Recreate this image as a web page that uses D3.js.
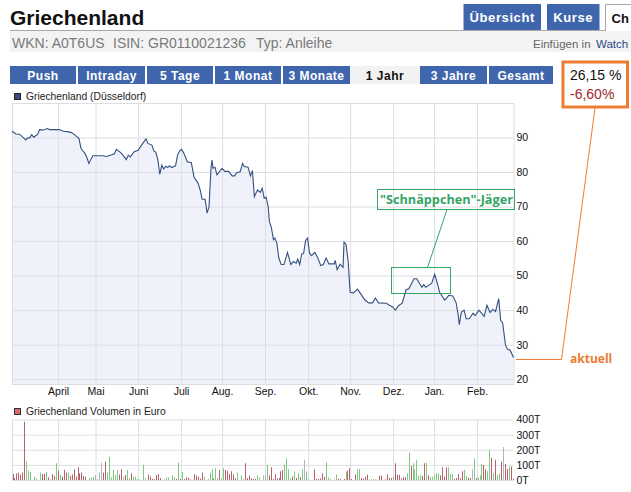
<!DOCTYPE html>
<html>
<head>
<meta charset="utf-8">
<script src="https://d3js.org/d3.v7.min.js"></script>
<style>
    body { margin: 0; background: #fff; overflow: hidden; }
    svg { display: block; }
    text { font-family: "Liberation Sans", Arial, sans-serif; }
    .axis text { font-size: 10.5px; fill: #111; }
    .axis .domain { display: none; }
    .axis line { stroke: #dcdee2; }
</style>
</head>
<body>
<div id="chart"></div>
<script>
//Chart data
var monthNames = ["April", "Mai", "Juni", "Juli", "Aug.", "Sep.", "Okt.", "Nov.", "Dez.", "Jan.", "Feb."];
var monthDays = [23.4, 42.4, 64, 85.8, 106.6, 128.4, 150.3, 171.6, 193.4, 214.2, 236];
var priceTicks = [20, 30, 40, 50, 60, 70, 80, 90];
var volumeTicks = [0, 100, 200, 300, 400];

//Trading day number and price of each drawn vertex
var priceDays = [0, 2, 4, 7, 8, 9, 10, 11, 12, 13, 14, 16, 18, 19, 21, 24, 26, 28, 30, 32, 34, 35, 36, 37, 38, 39, 41, 46, 48, 51, 52, 53, 55, 56, 58, 59, 60, 62, 64, 66, 68, 69, 71, 72, 73, 74, 75, 76, 77, 78, 79, 80, 81, 83, 84, 85, 86,
    87, 89, 91, 92.4, 94.4, 95.5, 96.5, 98, 99, 100, 100.5, 101, 101.5, 102, 103, 104, 106.6, 108, 110, 111.7, 113, 114, 115.8, 117, 117.8, 119.8, 121, 122, 123, 124.6, 126, 127, 128, 129, 130, 130.6, 131.6, 132.7, 133.4, 134.4, 135.4, 136.6, 138, 139.8, 141.5, 142.8, 144.2, 145, 146, 147, 148, 149, 150, 151, 152, 153.7, 155, 156.7, 158, 159.4, 160.8, 163.5, 164, 165, 166.5, 168, 168.5, 169.5, 170.6,
    171.6, 173.3, 175.3, 177, 179, 181, 183, 184.4, 186, 190, 191.5, 193, 194.6, 196, 198, 200, 201.4, 204, 205.4, 208, 209, 210, 213, 214.5, 216, 217, 219.6, 221.7, 223.7, 225.4, 226.4, 227, 228, 229.4, 230.5, 232, 234, 235, 237, 239.6, 241, 242.6, 244, 245.4, 247, 248, 249, 250.4, 251.4, 252.8, 254.5];
var priceValues = [91.8, 91, 90.9, 89.3, 89.9, 89.9, 90.8, 90.1, 90.5, 90.9, 92.3, 92.2, 92.6, 92.3, 92.3, 92.3, 91.8, 91.7, 91.5, 90.7, 89.7, 86.9, 86.1, 85.4, 84.2, 82.5, 84.7, 84.7, 84.5, 85.1, 85.3, 86.6, 85.7, 85.1, 83.6, 84.9, 84.4, 85.9, 86.3, 88, 89.6, 88.3, 87.8, 86.1, 85.7, 83.6, 79.3, 82, 80.9, 81.7, 81.3, 81.8, 81.3, 81.8, 84.9, 86.1, 86.6,
    85.7, 83, 82.7, 78.5, 76.8, 74.8, 72.1, 72.1, 68.1, 70, 75.8, 81.1, 83.5, 81.1, 81.4, 79.2, 81.1, 80.2, 80.2, 78.9, 78.9, 79.8, 80.1, 82.5, 81.6, 81.4, 78.9, 80.4, 72.9, 74.8, 74.1, 75.3, 72.4, 72.7, 70, 65.7, 64, 60.4, 60.9, 59.4, 55.1, 53.2, 53.2, 56.7, 53.2, 54.1, 53.6, 54.8, 53.2, 56.2, 56.5, 60.2, 60.9, 56.5, 55.8, 56.7, 55.4, 52.9, 53.2, 55.1, 53.4, 53.4, 54.4, 51.7, 53.3, 52.4, 59.7, 59.1, 54.1,
    45.2, 45, 46.1, 44.7, 43, 42.1, 42.1, 43.5, 42.1, 42, 41.4, 41, 40, 41.2, 42, 45.9, 46.2, 49.1, 49.1, 46.6, 47.4, 46.6, 47.8, 50.4, 47.5, 45.2, 42.9, 44.3, 44.1, 42.1, 38.7, 35.8, 39.4, 40, 37.5, 37.5, 39.1, 38.4, 40, 38.2, 41.4, 39.3, 40.2, 39.6, 43.3, 37, 36.3, 30, 28.7, 28.4, 26.3];

//Volume per trading day, in thousand euro
var volumeValues = [40, 13, 44, 49, 36, 49, 385, 124, 62, 53, 0, 22, 11, 0, 49, 40, 40, 53, 18, 7,
    40, 27, 111, 62, 33, 22, 67, 49, 49, 27, 36, 71, 22, 84, 44, 49, 27, 22, 0, 13,
    16, 22, 33, 7, 49, 115, 49, 122, 49, 155, 18, 67, 33, 62, 36, 71, 22, 33, 67, 13,
    44, 22, 22, 7, 4, 0, 100, 13, 0, 36, 22, 7, 7, 33, 40, 13, 0, 4, 18, 18,
    0, 31, 18, 7, 115, 7, 53, 7, 16, 16, 4, 0, 38, 29, 22, 9, 49, 22, 0, 7,
    49, 71, 11, 78, 13, 67, 9, 78, 67, 60, 40, 58, 36, 11, 49, 0, 31, 7, 111, 13,
    29, 13, 7, 7, 31, 18, 0, 31, 31, 100, 31, 84, 7, 38, 11, 13, 58, 67, 102, 144,
    71, 11, 22, 56, 13, 44, 18, 71, 133, 58, 7, 0, 0, 71, 7, 7, 11, 44, 22, 118,
    18, 7, 0, 4, 36, 9, 7, 0, 7, 56, 62, 78, 7, 0, 36, 71, 73, 13, 9, 22,
    36, 4, 4, 7, 4, 4, 29, 29, 0, 4, 36, 13, 13, 22, 111, 36, 33, 11, 18, 18,
    44, 182, 93, 111, 71, 133, 27, 36, 27, 111, 115, 31, 22, 22, 27, 44, 44, 31, 84, 22,
    84, 84, 40, 40, 7, 13, 40, 11, 58, 67, 27, 16, 13, 71, 144, 13, 18, 31, 107, 100,
    71, 58, 200, 147, 44, 133, 33, 44, 122, 218, 107, 73, 89, 89, 7];

//Colour class of each volume bar: r = red, g = green, s = grey
var volumeKinds = ("rrrrrrrggg" + "gggggrrgrg" + "rrgrgrrrgr" + "rrrrrrrrgg" + "ggssssrrgg"
    + "ggggrrgrgg" + "rggggggggr" + "rrrrrrgggg" + "gggrgrgrrr" + "rrrrrrrggg"
    + "ggrggrggrr" + "rrrrggggrr" + "rrrrgggssg" + "rrrrrrrrgg" + "ggrgrgrgsg"
    + "gggrrrrrrg" + "gggggrrrrg" + "rrrrrggrrr" + "rggggg" + "rrrr" + "rrrgrrrrrr"
    + "ggrgggggrr" + "grgggggrrr" + "rggg" + "rrrrrg" + "grrsgrgggr" + "rggrgrggrs" + "rrgrr").split("");

var productTabs = ["Übersicht", "Kurse"];
var rangeNames = ["Push", "Intraday", "5 Tage", "1 Monat", "3 Monate", "1 Jahr", "3 Jahre", "Gesamt"];
var infoItems = ["WKN: A0T6US", "ISIN: GR0110021236", "Typ: Anleihe"];

//Layout of the page
var svgWidth = 631;
var svgHeight = 492;
var plot = { left: 12, right: 513.5, top: 103, bottom: 384 };
var volPlot = { top: 419.5, bottom: 480 };
var tabEdges = [[463.5, 541], [547, 599.5]];
var rangeEdges = [[10, 76], [78, 145], [147, 213], [215, 281], [283, 350], [350, 420], [420, 487], [489, 553]];
var infoLeft = [12, 113, 256];
var blue = "#3f66ad";
var orange = "#ec7c30";
var green = "#35a566";

var svg = d3.select("#chart")
    .append("svg")
    .attr("width", svgWidth)
    .attr("height", svgHeight);

//Scales
var xScale = d3.scaleLinear()
    .domain([0, 254.5])
    .range([plot.left, plot.right]);

var yScale = d3.scaleLinear()
    .domain([18.6, 100])
    .range([plot.bottom, plot.top]);

var volScale = d3.scaleLinear()
    .domain([0, 400])
    .range([volPlot.bottom, volPlot.top]);

var kindColor = d3.scaleOrdinal()
    .domain(["r", "g", "s"])
    .range(["#b9606a", "#7fca82", "#b4b4b4"]);

//Header
svg.append("text")
    .attr("x", 10)
    .attr("y", 25)
    .attr("font-size", "21px")
    .attr("font-weight", "bold")
    .attr("fill", "#111")
    .text("Griechenland");

svg.append("rect")
    .attr("x", 10).attr("y", 31)
    .attr("width", 621).attr("height", 21)
    .attr("fill", "#f3f3f3");

svg.append("line")
    .attr("x1", 10).attr("x2", 605)
    .attr("y1", 30.5).attr("y2", 30.5)
    .attr("stroke", "#a8a8a8");

svg.selectAll(".info")
    .data(infoItems)
    .enter()
    .append("text")
    .attr("class", "info")
    .attr("x", (d, i) => infoLeft[i])
    .attr("y", 48)
    .attr("font-size", "14px")
    .attr("fill", "#7a7a7a")
    .text(d => d);

svg.append("text")
    .attr("x", 533).attr("y", 48)
    .attr("font-size", "11.5px")
    .attr("fill", "#666")
    .text("Einfügen in");

svg.append("text")
    .attr("x", 596).attr("y", 48)
    .attr("font-size", "11.5px")
    .attr("fill", "#2a4a86")
    .text("Watch");

//Tabs
svg.selectAll(".tab")
    .data(productTabs)
    .enter()
    .append("rect")
    .attr("class", "tab")
    .attr("x", (d, i) => tabEdges[i][0])
    .attr("y", 4)
    .attr("width", (d, i) => tabEdges[i][1] - tabEdges[i][0])
    .attr("height", 26)
    .attr("fill", blue);

svg.selectAll(".tabText")
    .data(productTabs)
    .enter()
    .append("text")
    .attr("class", "tabText")
    .attr("x", (d, i) => (tabEdges[i][0] + tabEdges[i][1]) / 2)
    .attr("y", 22)
    .attr("text-anchor", "middle")
    .attr("font-size", "13px")
    .attr("font-weight", "bold")
    .attr("letter-spacing", "0.6px")
    .attr("fill", "#fff")
    .text(d => d);

svg.append("path")
    .attr("d", "M605.5,31V4.5H631")
    .attr("fill", "none")
    .attr("stroke", "#a8a8a8");

svg.append("text")
    .attr("x", 611.5).attr("y", 23)
    .attr("font-size", "13px")
    .attr("font-weight", "bold")
    .attr("fill", "#111")
    .text("Ch");

//Time range buttons
svg.selectAll(".range")
    .data(rangeNames)
    .enter()
    .append("rect")
    .attr("class", "range")
    .attr("x", (d, i) => rangeEdges[i][0])
    .attr("y", 66)
    .attr("width", (d, i) => rangeEdges[i][1] - rangeEdges[i][0])
    .attr("height", 18)
    .attr("fill", d => d == "1 Jahr" ? "#f2f2f2" : blue);

svg.selectAll(".rangeText")
    .data(rangeNames)
    .enter()
    .append("text")
    .attr("class", "rangeText")
    .attr("x", (d, i) => (rangeEdges[i][0] + rangeEdges[i][1]) / 2)
    .attr("y", 80)
    .attr("text-anchor", "middle")
    .attr("font-size", "12px")
    .attr("font-weight", "bold")
    .attr("letter-spacing", "0.5px")
    .attr("fill", d => d == "1 Jahr" ? "#111" : "#fff")
    .text(d => d);

//Legends
svg.append("rect")
    .attr("x", 14.5).attr("y", 93.5)
    .attr("width", 6).attr("height", 6)
    .attr("fill", "#34507f")
    .attr("stroke", "#222");

svg.append("text")
    .attr("x", 26).attr("y", 100)
    .attr("font-size", "10.3px")
    .attr("fill", "#222")
    .text("Griechenland (Düsseldorf)");

svg.append("rect")
    .attr("x", 14.5).attr("y", 408.5)
    .attr("width", 6).attr("height", 6)
    .attr("fill", "#d96a6a")
    .attr("stroke", "#333");

svg.append("text")
    .attr("x", 26).attr("y", 415)
    .attr("font-size", "10.3px")
    .attr("fill", "#222")
    .text("Griechenland Volumen in Euro");

//Price panel
var pricePoints = d3.zip(priceDays, priceValues);

svg.append("path")
    .datum(pricePoints)
    .attr("fill", "#eff2fa")
    .attr("d", d3.area()
        .x(d => xScale(d[0]))
        .y0(plot.bottom)
        .y1(d => yScale(d[1])));

svg.append("g")
    .attr("class", "axis")
    .attr("transform", `translate(0, ${plot.bottom})`)
    .call(d3.axisBottom(xScale)
        .tickValues(monthDays)
        .tickFormat((d, i) => monthNames[i])
        .tickSize(-(plot.bottom - plot.top))
        .tickPadding(4));

svg.append("g")
    .attr("class", "axis")
    .attr("transform", `translate(${plot.right}, 0)`)
    .call(d3.axisRight(yScale)
        .tickValues(priceTicks)
        .tickSize(-(plot.right - plot.left))
        .tickPadding(3));

svg.append("rect")
    .attr("x", plot.left + 0.5).attr("y", plot.top + 0.5)
    .attr("width", plot.right - plot.left).attr("height", plot.bottom - plot.top)
    .attr("fill", "none")
    .attr("stroke", "#dcdee2");

svg.append("path")
    .datum(pricePoints)
    .attr("fill", "none")
    .attr("stroke", "#34507f")
    .attr("stroke-width", 1.1)
    .attr("d", d3.line()
        .x(d => xScale(d[0]))
        .y(d => yScale(d[1])));

//Volume panel
svg.append("g")
    .attr("class", "axis")
    .attr("transform", `translate(0, ${volPlot.bottom})`)
    .call(d3.axisBottom(xScale)
        .tickValues(monthDays)
        .tickFormat("")
        .tickSize(-(volPlot.bottom - volPlot.top)));

svg.append("g")
    .attr("class", "axis")
    .attr("transform", `translate(${plot.right}, 0)`)
    .call(d3.axisRight(volScale)
        .tickValues(volumeTicks)
        .tickFormat(d => d + "T")
        .tickSize(-(plot.right - plot.left))
        .tickPadding(3));

svg.append("line")
    .attr("x1", plot.left + 0.5).attr("x2", plot.left + 0.5)
    .attr("y1", volPlot.top).attr("y2", volPlot.bottom)
    .attr("stroke", "#dcdee2");

svg.selectAll(".volume")
    .data(volumeValues)
    .enter()
    .append("rect")
    .attr("class", "volume")
    .attr("x", (d, i) => Math.round(xScale(i) + 0.5))
    .attr("y", d => volScale(d))
    .attr("width", 1)
    .attr("height", d => volPlot.bottom - volScale(d))
    .attr("fill", (d, i) => kindColor(volumeKinds[i]));

//Annotations drawn over the chart
svg.append("rect")
    .attr("x", 377.5).attr("y", 189.5)
    .attr("width", 137).attr("height", 20)
    .attr("fill", "none")
    .attr("stroke", green);

svg.append("text")
    .attr("x", 380).attr("y", 204)
    .style("font-family", "'Open Sans'")
    .attr("font-size", "12.7px")
    .attr("font-weight", "bold")
    .attr("fill", green)
    .text("\"Schnäppchen\"-Jäger");

svg.append("rect")
    .attr("x", 391.5).attr("y", 267.5)
    .attr("width", 59).attr("height", 26)
    .attr("fill", "none")
    .attr("stroke", green);

svg.append("line")
    .attr("x1", 447).attr("y1", 209.5)
    .attr("x2", 427.5).attr("y2", 267.5)
    .attr("stroke", green);

svg.append("path")
    .attr("d", "M595,108L561.5,359.5H516")
    .attr("fill", "none")
    .attr("stroke", orange);

svg.append("text")
    .attr("x", 570).attr("y", 363)
    .style("font-family", "'Open Sans'")
    .attr("font-size", "12px")
    .attr("font-weight", "bold")
    .attr("fill", orange)
    .text("aktuell");

svg.append("rect")
    .attr("x", 563).attr("y", 62)
    .attr("width", 64.5).attr("height", 45)
    .attr("fill", "#fff")
    .attr("stroke", orange)
    .attr("stroke-width", 3);

svg.append("text")
    .attr("x", 570).attr("y", 80)
    .attr("font-size", "14px")
    .attr("fill", "#111")
    .text("26,15 %");

svg.append("text")
    .attr("x", 570).attr("y", 99)
    .attr("font-size", "14px")
    .attr("fill", "#a02a2a")
    .text("-6,60%");
</script>
</body>
</html>
